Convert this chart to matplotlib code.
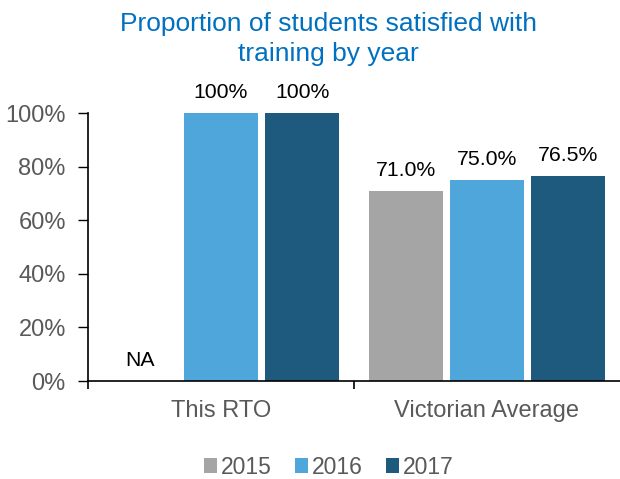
import matplotlib
matplotlib.use("Agg")
import matplotlib.pyplot as plt
import numpy as np

plt.rcParams['font.family'] = ['Liberation Sans', 'DejaVu Sans']

categories = ["This RTO", "Victorian Average"]
years = ["2015", "2016", "2017"]
values_2015 = [None, 71.0]
values_2016 = [100, 75.0]
values_2017 = [100, 76.5]
labels_2015 = ["NA", "71.0%"]
labels_2016 = ["100%", "75.0%"]
labels_2017 = ["100%", "76.5%"]
colors = ["#A5A5A5", "#4EA6DA", "#1E597E"]

fig = plt.figure(figsize=(6.2, 4.79), dpi=100)
ax = fig.add_axes([88/620, 1-381/479, 532/620, 268/479])

x = np.arange(len(categories))
step = 0.305
width = 0.278
series = [values_2015, values_2016, values_2017]
labels = [labels_2015, labels_2016, labels_2017]
for i, (vals, labs, col, yr) in enumerate(zip(series, labels, colors, years)):
    pos = x + (i - 1) * step
    h = [v if v is not None else 0 for v in vals]
    ax.bar(pos, h, width=width, color=col, label=yr)
    for p, v, lab in zip(pos, vals, labs):
        yv = v if v is not None else 0
        ax.text(p, yv + 4, lab, ha='center', va='bottom', fontsize=15.3, color='black')

ax.set_xlim(-0.5, 1.5)
ax.set_ylim(0, 100)
ax.set_yticks([0, 20, 40, 60, 80, 100])
ax.set_yticklabels([f"{t}%" for t in [0, 20, 40, 60, 80, 100]])
ax.set_xticks(x)
ax.set_xticklabels(categories)
ax.set_xticks([-0.5, 0.5], minor=True)
ax.tick_params(axis='x', which='major', length=0, pad=14, labelsize=17, labelcolor='#595959')
ax.tick_params(axis='x', which='minor', length=6, width=1.2, direction='out', color='black')
ax.tick_params(axis='y', length=7, width=1, direction='out', labelsize=17, labelcolor='#595959', pad=9)
for s in ['top', 'right']:
    ax.spines[s].set_visible(False)
ax.spines['left'].set_linewidth(1.2)
ax.spines['bottom'].set_linewidth(1.2)
ax.spines['bottom'].set_clip_on(False)

fig.text(328/620, 1 - 39/479, "Proportion of students satisfied with\ntraining by year",
         ha='center', va='center', fontsize=19, color='#0070C0', linespacing=1.35)

leg = fig.legend(loc='center', bbox_to_anchor=(0.53, 1 - 467/479), ncol=3, frameon=False,
                 fontsize=16.5, handlelength=0.6, handleheight=0.6, handletextpad=0.15,
                 columnspacing=1.0)
for t in leg.get_texts():
    t.set_color('#595959')

fig.savefig("out.png", dpi=100)
